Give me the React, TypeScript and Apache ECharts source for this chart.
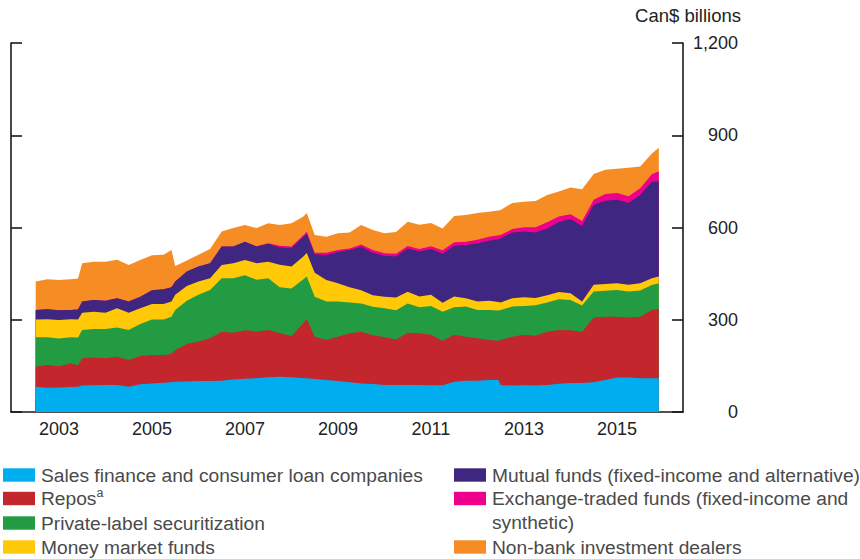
import React, { useEffect, useRef } from "react";
import * as echarts from "echarts";

// Decimal years of each observation
const dates = [
  2003.0, 2003.25, 2003.5, 2003.75, 2003.91, 2004.0, 2004.25, 2004.5, 2004.75,
  2005.0, 2005.25, 2005.5, 2005.75, 2005.92, 2006.0, 2006.25, 2006.5, 2006.75,
  2007.0, 2007.25, 2007.5, 2007.75, 2008.0, 2008.25, 2008.5, 2008.75, 2008.83,
  2009.0, 2009.25, 2009.5, 2009.75, 2010.0, 2010.25, 2010.5, 2010.75,
  2011.0, 2011.25, 2011.5, 2011.75, 2012.0, 2012.25, 2012.5, 2012.75, 2012.95,
  2013.0, 2013.25, 2013.5, 2013.75, 2014.0, 2014.25, 2014.5, 2014.75,
  2015.0, 2015.25, 2015.5, 2015.75, 2016.0, 2016.25, 2016.4,
];

// Can$ billions, per component (stacked bottom to top)
const salesFinance = [
  82, 79, 80, 81, 82, 86, 87, 88, 88,
  82, 90, 93, 95, 97, 98, 99, 101, 101,
  102, 106, 108, 110, 113, 115, 113, 110, 110,
  107, 104, 101, 97, 93, 91, 88, 88,
  88, 88, 87, 87, 98, 102, 102, 104, 104,
  88, 86, 87, 86, 88, 92, 94, 94,
  97, 104, 112, 112, 110, 110, 110,
];
const repos = [
  65, 74, 69, 77, 70, 89, 90, 87, 92,
  87, 92, 92, 90, 92, 104, 122, 128, 139,
  159, 152, 158, 152, 154, 141, 134, 178, 192,
  138, 130, 144, 159, 168, 159, 155, 148,
  170, 168, 164, 145, 153, 143, 138, 130, 128,
  146, 159, 164, 162, 173, 175, 172, 167,
  210, 206, 198, 195, 200, 222, 225,
];
const privateLabel = [
  96, 90, 90, 85, 90, 92, 93, 95, 95,
  98, 104, 116, 116, 121, 130, 141, 152, 157,
  174, 177, 179, 168, 168, 150, 155, 143, 139,
  130, 125, 114, 100, 92, 92, 94, 95,
  95, 85, 94, 94, 90, 98, 92, 98, 98,
  98, 98, 94, 99, 95, 100, 98, 85,
  85, 84, 87, 85, 85, 81, 84,
];
const moneyMarket = [
  58, 59, 60, 59, 59, 56, 56, 53, 62,
  56, 51, 50, 50, 49, 49, 48, 43, 38,
  43, 49, 49, 54, 54, 73, 71, 74, 76,
  78, 70, 60, 50, 43, 38, 38, 41,
  38, 35, 36, 29, 35, 27, 27, 30, 28,
  24, 27, 28, 24, 24, 23, 22, 13,
  22, 22, 22, 22, 24, 22, 22,
];
const mutualFunds = [
  31, 32, 32, 30, 32, 36, 38, 39, 33,
  36, 38, 45, 48, 47, 43, 47, 49, 49,
  60, 54, 60, 54, 58, 56, 60, 63, 63,
  60, 81, 101, 121, 141, 138, 133, 134,
  141, 146, 149, 160, 165, 173, 190, 195, 205,
  209, 214, 214, 213, 217, 228, 242, 246,
  260, 271, 271, 266, 287, 314, 309,
];
const etfs = [
  0, 0, 0, 0, 0, 0, 0, 0, 0,
  0, 0, 0, 0, 0, 0, 0, 0, 0,
  0, 0, 0, 1, 2, 6, 5, 6, 6,
  5, 8, 7, 5, 8, 9, 8, 9,
  8, 8, 9, 11, 11, 11, 11, 13, 12,
  11, 11, 14, 17, 20, 18, 15, 16,
  16, 22, 22, 22, 22, 24, 33,
];
const dealers = [
  92, 98, 98, 100, 101, 125, 125, 127, 125,
  119, 119, 114, 112, 121, 51, 36, 38, 46,
  49, 60, 54, 59, 65, 67, 76, 61, 61,
  58, 52, 54, 52, 63, 65, 65, 70,
  79, 79, 76, 71, 85, 87, 87, 81, 80,
  81, 85, 83, 85, 89, 81, 87, 103,
  84, 79, 79, 92, 70, 68, 76,
];

const seriesNames = [
  "Sales finance and consumer loan companies",
  "Repos",
  "Private-label securitization",
  "Money market funds",
  "Mutual funds (fixed-income and alternative)",
  "Exchange-traded funds (fixed-income and synthetic)",
  "Non-bank investment dealers",
];
const legendLabels = [
  "Sales finance and consumer loan companies",
  "Repos{sup|a}",
  "Private-label securitization",
  "Money market funds",
  "Mutual funds (fixed-income and alternative)",
  "Exchange-traded funds (fixed-income and\nsynthetic)",
  "Non-bank investment dealers",
];
const seriesColors = [
  "#00AEEF",
  "#C4262E",
  "#239B43",
  "#FFC907",
  "#3F2680",
  "#EC008C",
  "#F68D24",
];
const seriesValues = [
  salesFinance,
  repos,
  privateLabel,
  moneyMarket,
  mutualFunds,
  etfs,
  dealers,
];

const yTicks = [0, 300, 600, 900, 1200];
const yearTicks = [
  2003, 2004, 2005, 2006, 2007, 2008, 2009, 2010, 2011, 2012, 2013, 2014,
  2015, 2016,
];
const yearLabels = [2003, 2005, 2007, 2009, 2011, 2013, 2015];
const unitLabel = "Can$ billions";

const FONT = '"Liberation Sans", Arial, Helvetica, sans-serif';

// legend layout: [column, row]
const legendSlots = [
  [0, 0],
  [0, 1],
  [0, 2],
  [0, 3],
  [1, 0],
  [1, 1],
  [1, 3],
];
const legendSwatchX = [3, 454];
const legendTextX = [41, 492];
const legendRowY = [475, 498.5, 523, 547];

function buildOption(): any {
  // running totals: each layer is drawn as an area from 0 up to its cumulative top,
  // the upper layers first so the lower ones paint over them (visual stacking)
  const cumulative: number[][] = [];
  seriesValues.forEach((vals, i) => {
    cumulative.push(
      vals.map((v, j) => (i === 0 ? v : cumulative[i - 1][j] + v))
    );
  });

  const series = seriesNames
    .map((name, i) => ({
      name,
      type: "line",
      xAxisIndex: 0,
      yAxisIndex: 1,
      symbol: "none",
      showSymbol: false,
      silent: true,
      lineStyle: { width: 0, color: seriesColors[i] },
      areaStyle: { color: seriesColors[i], opacity: 1 },
      itemStyle: { color: seriesColors[i] },
      data: dates.map((d, j) => [d, cumulative[i][j]]),
    }))
    .reverse();

  const legendGraphics: any[] = [];
  seriesNames.forEach((_, i) => {
    const [col, row] = legendSlots[i];
    const cy = legendRowY[row];
    legendGraphics.push({
      type: "rect",
      shape: { x: legendSwatchX[col], y: cy - 6.7, width: 32, height: 13.4 },
      style: { fill: seriesColors[i] },
      silent: true,
    });
    legendGraphics.push({
      type: "text",
      x: legendTextX[col],
      y: cy - 12,
      silent: true,
      style: {
        text: legendLabels[i],
        fill: "#4a4a4a",
        font: `19.2px ${FONT}`,
        fontSize: 19.2,
        fontFamily: FONT,
        lineHeight: 24,
        align: "left",
        verticalAlign: "top",
        textAlign: "left",
        textVerticalAlign: "top",
        rich: {
          sup: {
            fontSize: 12.5,
            fontFamily: FONT,
            fill: "#4a4a4a",
            verticalAlign: "top",
            lineHeight: 15,
          },
        },
      },
    });
  });

  const axisLineStyle = { color: "#1a1a1a", width: 1.6 };

  return {
    animation: false,
    backgroundColor: "#ffffff",
    grid: { left: 11, right: 177, top: 43, bottom: 147, containLabel: false },
    xAxis: {
      type: "value",
      min: 2002.469,
      max: 2016.92,
      axisLine: { show: true, onZero: false, lineStyle: axisLineStyle },
      axisTick: {
        show: true,
        inside: true,
        length: 11,
        customValues: yearTicks,
        lineStyle: axisLineStyle,
      },
      axisLabel: {
        show: true,
        customValues: yearLabels.map((y) => y + 0.5),
        formatter: (v: number) => String(Math.floor(v)),
        color: "#222",
        fontSize: 18,
        fontFamily: FONT,
        margin: 8,
      },
      splitLine: { show: false },
    },
    yAxis: [
      {
        type: "value",
        position: "left",
        min: 0,
        max: 1200,
        interval: 300,
        axisLine: { show: true, lineStyle: axisLineStyle },
        axisTick: { show: true, inside: true, length: 11, lineStyle: axisLineStyle },
        axisLabel: { show: false },
        splitLine: { show: false },
      },
      {
        type: "value",
        position: "right",
        min: 0,
        max: 1200,
        interval: 300,
        axisLine: { show: true, lineStyle: axisLineStyle },
        axisTick: {
          show: true,
          inside: true,
          length: 11,
          customValues: yTicks,
          lineStyle: axisLineStyle,
        },
        axisLabel: {
          show: true,
          align: "right",
          margin: 55,
          color: "#222",
          fontSize: 18,
          fontFamily: FONT,
          formatter: (v: number) => v.toLocaleString("en-US"),
        },
        splitLine: { show: false },
      },
    ],
    series,
    graphic: [
      {
        type: "text",
        x: 741,
        y: 15,
        silent: true,
        style: {
          text: unitLabel,
          fill: "#222",
          font: `18.5px ${FONT}`,
          fontSize: 18.5,
          fontFamily: FONT,
          align: "right",
          verticalAlign: "middle",
          textAlign: "right",
          textVerticalAlign: "middle",
        },
      },
      ...legendGraphics,
    ],
  };
}

export default function App() {
  const ref = useRef<HTMLDivElement>(null);
  useEffect(() => {
    if (!ref.current) return;
    const chart = echarts.init(ref.current, null, { renderer: "svg" });
    chart.setOption(buildOption());
    return () => chart.dispose();
  }, []);
  return (
    <div
      ref={ref}
      style={{ position: "absolute", left: 0, top: 0, width: 860, height: 559 }}
    />
  );
}
